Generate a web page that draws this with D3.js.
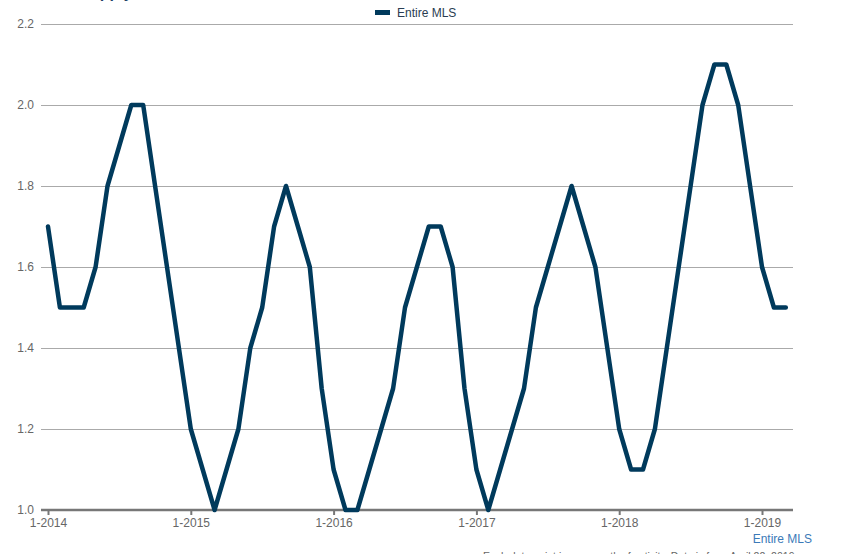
<!DOCTYPE html>
<html>
<head>
<meta charset="utf-8">
<script src="https://cdn.jsdelivr.net/npm/d3@7"></script>
<style>
  html, body { margin: 0; padding: 0; background: #fff; }
  svg { display: block; font-family: "Liberation Sans", Arial, sans-serif; }
</style>
</head>
<body>
<svg id="chart" width="859" height="554"></svg>
<script>
// ---- data ----
const months = [];
for (let y = 2014; y <= 2019; y++) {
  for (let m = 1; m <= 12; m++) {
    if (y === 2019 && m > 3) break;
    months.push(m + "-" + y);
  }
}
const seriesName = "Entire MLS";
const values = [
  1.7, 1.5, 1.5, 1.5, 1.6, 1.8, 1.9, 2.0, 2.0, 1.8, 1.6, 1.4,
  1.2, 1.1, 1.0, 1.1, 1.2, 1.4, 1.5, 1.7, 1.8, 1.7, 1.6, 1.3,
  1.1, 1.0, 1.0, 1.1, 1.2, 1.3, 1.5, 1.6, 1.7, 1.7, 1.6, 1.3,
  1.1, 1.0, 1.1, 1.2, 1.3, 1.5, 1.6, 1.7, 1.8, 1.7, 1.6, 1.4,
  1.2, 1.1, 1.1, 1.2, 1.4, 1.6, 1.8, 2.0, 2.1, 2.1, 2.0, 1.8,
  1.6, 1.5, 1.5
];
const yTicks = [1.0, 1.2, 1.4, 1.6, 1.8, 2.0, 2.2];
const xTickLabels = ["1-2014", "1-2015", "1-2016", "1-2017", "1-2018", "1-2019"];
const titleText = "Months Supply";
const footerText = "Each data point is one month of activity. Data is from April 22, 2019.";

// ---- layout ----
const svg = d3.select("#chart");
const plotLeft = 41, plotRight = 793, plotTop = 24, plotBottom = 510;

const x = d3.scaleLinear().domain([0, 60]).range([48, 762]);
const y = d3.scaleLinear().domain([1.0, 2.2]).range([plotBottom, plotTop]);

// title (mostly cut off at the top, as in the reference)
svg.append("text")
  .attr("x", 18).attr("y", -2)
  .attr("font-size", 16).attr("font-weight", "bold")
  .attr("fill", "#1f3f66")
  .text(titleText);

// gridlines
svg.append("g")
  .selectAll("line")
  .data(yTicks.filter(d => d > 1.0))
  .join("line")
  .attr("x1", plotLeft).attr("x2", plotRight)
  .attr("y1", d => y(d)).attr("y2", d => y(d))
  .attr("stroke", "#aaaaaa").attr("stroke-width", 1)
  .attr("shape-rendering", "crispEdges");

// y labels
const yAxis = d3.axisLeft(y).tickValues(yTicks).tickFormat(d3.format(".1f")).tickSize(0).tickPadding(7);
const yg = svg.append("g").attr("transform", `translate(${plotLeft},0)`).call(yAxis);
yg.select(".domain").remove();
yg.selectAll("text").attr("font-size", 12).attr("fill", "#666").attr("font-family", "Liberation Sans, Arial, sans-serif");

// x axis
const tickIdx = xTickLabels.map(l => months.indexOf(l));
const xAxis = d3.axisBottom(x).tickValues(tickIdx).tickFormat(i => months[i]).tickSize(5).tickPadding(3);
const xg = svg.append("g").attr("transform", `translate(0,${plotBottom})`).call(xAxis);
xg.select(".domain").remove();
xg.selectAll(".tick line").attr("stroke", "#777").attr("stroke-width", 2);
xg.selectAll("text").attr("font-size", 12).attr("fill", "#666").attr("font-family", "Liberation Sans, Arial, sans-serif");
svg.append("line")
  .attr("x1", plotLeft).attr("x2", plotRight)
  .attr("y1", plotBottom).attr("y2", plotBottom)
  .attr("stroke", "#777").attr("stroke-width", 2.5);

// line
const line = d3.line().x((d, i) => x(i)).y(d => y(d));
svg.append("path")
  .datum(values)
  .attr("d", line)
  .attr("fill", "none")
  .attr("stroke", "#003a5c")
  .attr("stroke-width", 4.5)
  .attr("stroke-linejoin", "round")
  .attr("stroke-linecap", "round");

// legend
svg.append("rect").attr("x", 375).attr("y", 10).attr("width", 15).attr("height", 5).attr("fill", "#003a5c");
svg.append("text").attr("x", 397).attr("y", 17).attr("font-size", 12).attr("fill", "#2a3d52").text(seriesName);

// x axis title
svg.append("text").attr("x", 812).attr("y", 543).attr("text-anchor", "end")
  .attr("font-size", 12).attr("fill", "#3b7ab8").text(seriesName);

// footer (cut off at the bottom, as in the reference)
svg.append("text").attr("x", 483).attr("y", 560)
  .attr("font-size", 10.5).attr("fill", "#666").text(footerText);
</script>
</body>
</html>
